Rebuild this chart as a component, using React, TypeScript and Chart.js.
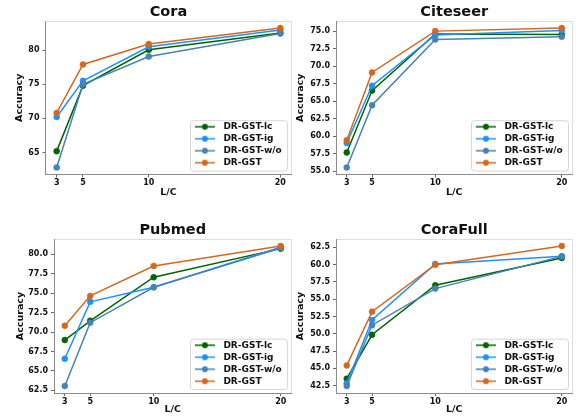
import React, { useEffect, useRef } from 'react';
import { Chart, registerables } from 'chart.js';

Chart.register(...registerables);

// ---------- data ----------
const xValues = [3, 5, 10, 20];
const xTicks = [3, 5, 10, 20];
const seriesNames = ['DR-GST-lc', 'DR-GST-ig', 'DR-GST-w/o', 'DR-GST'];
const seriesColors = ['#006400', '#1e90ff', '#4682b4', '#d2691e'];

const coraLc = [65.2, 74.8, 80.05, 82.5];
const coraIg = [70.2, 75.5, 80.5, 82.95];
const coraWo = [62.8, 75.0, 79.07, 82.45];
const coraGst = [70.8, 77.9, 80.9, 83.25];
const coraTicks = [65, 70, 75, 80];

const citeseerLc = [57.66, 66.5, 74.6, 74.5];
const citeseerIg = [59.0, 67.2, 74.45, 75.1];
const citeseerWo = [55.5, 64.4, 73.8, 74.2];
const citeseerGst = [59.4, 69.1, 75.0, 75.45];
const citeseerTicks = [55, 57.5, 60, 62.5, 65, 67.5, 70, 72.5, 75];

const pubmedLc = [68.96, 71.44, 77.05, 80.73];
const pubmedIg = [66.56, 73.88, 75.76, 80.9];
const pubmedWo = [63.05, 71.2, 75.76, 80.8];
const pubmedGst = [70.8, 74.65, 78.5, 81.07];
const pubmedTicks = [62.5, 65, 67.5, 70, 72.5, 75, 77.5, 80];

const coraFullLc = [43.5, 49.86, 57.02, 60.96];
const coraFullIg = [42.84, 52.0, 60.1, 61.2];
const coraFullWo = [42.45, 51.25, 56.54, 61.2];
const coraFullGst = [45.43, 53.2, 60.0, 62.7];
const coraFullTicks = [42.5, 45, 47.5, 50, 52.5, 55, 57.5, 60, 62.5];

// ---------- layout ----------
const FAMILY = "'DejaVu Sans', sans-serif";
const W = 580;
const H = 416;
const TITLE_SIZE = 14.5;
const TITLE_LH = 1.15;
const LABEL_SIZE = 9.5;
const LABEL_LH = 1.2;

type Panel = {
  title: string;
  series: number[][];
  ticks: number[];
  decimals: number;
  L: number; R: number; T: number; B: number;
  yTitleX: number; xTitleY: number;
};

const panels: Panel[] = [
  { title: 'Cora', series: [coraLc, coraIg, coraWo, coraGst], ticks: coraTicks, decimals: 0,
    L: 45.5, R: 291.5, T: 21, B: 174.5, yTitleX: 20, xTitleY: 192.7 },
  { title: 'Citeseer', series: [citeseerLc, citeseerIg, citeseerWo, citeseerGst], ticks: citeseerTicks, decimals: 1,
    L: 336, R: 572.5, T: 21, B: 174.5, yTitleX: 301, xTitleY: 192.7 },
  { title: 'Pubmed', series: [pubmedLc, pubmedIg, pubmedWo, pubmedGst], ticks: pubmedTicks, decimals: 1,
    L: 54, R: 291.5, T: 239, B: 393, yTitleX: 20.5, xTitleY: 410 },
  { title: 'CoraFull', series: [coraFullLc, coraFullIg, coraFullWo, coraFullGst], ticks: coraFullTicks, decimals: 1,
    L: 336, R: 572.5, T: 239, B: 393, yTitleX: 301, xTitleY: 410 },
];

function makeLegendIcon(color: string): HTMLCanvasElement {
  const c = document.createElement('canvas');
  c.width = 22;
  c.height = 8;
  const ctx = c.getContext('2d')!;
  ctx.strokeStyle = color;
  ctx.lineWidth = 1.5;
  ctx.beginPath();
  ctx.moveTo(1, 4);
  ctx.lineTo(21, 4);
  ctx.stroke();
  ctx.fillStyle = color;
  ctx.beginPath();
  ctx.arc(11, 4, 3, 0, Math.PI * 2);
  ctx.fill();
  return c;
}

const LEG_W = 97;
const LEG_H = 50.3;

const panelDecor = {
  id: 'panelDecor',
  afterLayout(chart: any) {
    const ca = chart.chartArea;
    const lg = chart.legend;
    const bx = ca.right - 4 - LEG_W;
    const by = ca.bottom - 3.5 - LEG_H;
    chart.$legBox = { bx, by };
    if (lg) {
      lg.left = bx - 2.6;
      lg.right = lg.left + LEG_W;
      lg.width = LEG_W;
      lg.top = by - 1.5;
      lg.bottom = lg.top + 70;
      lg.height = 70;
    }
  },
  beforeDraw(chart: any) {
    const ctx = chart.ctx;
    const ca = chart.chartArea;
    ctx.save();
    // top & right spines (light)
    ctx.strokeStyle = '#dddddd';
    ctx.lineWidth = 1;
    ctx.beginPath();
    ctx.moveTo(ca.left, Math.round(ca.top) + 0.5);
    ctx.lineTo(ca.right, Math.round(ca.top) + 0.5);
    ctx.moveTo(Math.round(ca.right) - 0.5, ca.top);
    ctx.lineTo(Math.round(ca.right) - 0.5, ca.bottom);
    ctx.stroke();
    // legend frame
    const { bx, by } = chart.$legBox;
    ctx.fillStyle = 'rgba(255,255,255,0.8)';
    ctx.strokeStyle = '#cccccc';
    ctx.lineWidth = 0.8;
    ctx.beginPath();
    (ctx as any).roundRect(bx, by, LEG_W, LEG_H, 3);
    ctx.fill();
    ctx.stroke();
    ctx.restore();
  },
};

function buildChart(canvas: HTMLCanvasElement, p: Panel) {
  const icons = seriesColors.map(makeLegendIcon);
  const datasets = p.series.map((vals, i) => ({
    label: seriesNames[i],
    data: xValues.map((x, j) => ({ x, y: vals[j] })),
    borderColor: seriesColors[i],
    backgroundColor: seriesColors[i],
    pointBackgroundColor: seriesColors[i],
    pointBorderColor: seriesColors[i],
    borderWidth: 1.5,
    pointRadius: 3,
    pointBorderWidth: 0.5,
    tension: 0,
    order: seriesNames.length - i,
  }));
  const all = p.series.flat();
  const dMin = Math.min(...all);
  const dMax = Math.max(...all);
  const yPad = (dMax - dMin) * 0.05;
  const xPad = (xValues[xValues.length - 1] - xValues[0]) * 0.05;
  const tickFont = { family: FAMILY, size: 8, weight: 'bold' as const };
  const labelFont = { family: FAMILY, size: LABEL_SIZE, weight: 'bold' as const, lineHeight: LABEL_LH };
  const halfLabel = (LABEL_SIZE * LABEL_LH) / 2;

  return new Chart(canvas, {
    type: 'line',
    data: { datasets },
    options: {
      animation: false,
      responsive: false,
      devicePixelRatio: 1,
      layout: {
        padding: {
          left: p.yTitleX - halfLabel,
          right: W - p.R,
          top: p.T - TITLE_SIZE * TITLE_LH,
          bottom: H - p.xTitleY - halfLabel,
        },
      },
      scales: {
        x: {
          type: 'linear',
          min: xValues[0] - xPad,
          max: xValues[xValues.length - 1] + xPad,
          afterBuildTicks: (s: any) => { s.ticks = xTicks.map((v) => ({ value: v })); },
          afterFit: (s: any) => { s.height = p.xTitleY - p.B + halfLabel; },
          ticks: { font: tickFont, color: '#111', padding: 1, maxRotation: 0, callback: (v: any) => String(v) },
          grid: { display: true, drawOnChartArea: false, drawTicks: true, tickLength: 3, color: '#666' },
          border: { display: true, color: '#8c8c8c', width: 1 },
          title: { display: true, text: 'L/C', font: labelFont, color: '#111', padding: 0 },
        },
        y: {
          type: 'linear',
          min: dMin - yPad,
          max: dMax + yPad,
          afterBuildTicks: (s: any) => { s.ticks = p.ticks.map((v) => ({ value: v })); },
          afterFit: (s: any) => { s.width = p.L - p.yTitleX + halfLabel; },
          ticks: { font: tickFont, color: '#111', padding: 3, callback: (v: any) => Number(v).toFixed(p.decimals) },
          grid: { display: true, drawOnChartArea: false, drawTicks: true, tickLength: 3, color: '#666' },
          border: { display: true, color: '#8c8c8c', width: 1 },
          title: { display: true, text: 'Accuracy', font: labelFont, color: '#111', padding: 0 },
        },
      },
      plugins: {
        title: {
          display: true,
          text: p.title,
          fullSize: false,
          color: '#111',
          padding: 0,
          font: { family: FAMILY, size: TITLE_SIZE, weight: 'bold', lineHeight: TITLE_LH },
        },
        legend: {
          display: true,
          position: 'chartArea' as any,
          align: 'start',
          labels: {
            usePointStyle: true,
            pointStyleWidth: 28,
            padding: 3,
            color: '#111',
            font: { family: FAMILY, size: 9, weight: 'bold' },
            generateLabels: () => seriesNames.map((name, i) => ({
              text: name,
              pointStyle: icons[i] as any,
              fillStyle: seriesColors[i],
              strokeStyle: seriesColors[i],
              lineWidth: 0,
              hidden: false,
              datasetIndex: i,
              fontColor: '#111',
            })),
          },
        },
        tooltip: { enabled: false },
      },
    } as any,
    plugins: [panelDecor],
  });
}

function PanelChart({ p }: { p: Panel }) {
  const ref = useRef<HTMLCanvasElement>(null);
  useEffect(() => {
    if (!ref.current) return;
    const chart = buildChart(ref.current, p);
    return () => chart.destroy();
  }, [p]);
  return (
    <canvas
      ref={ref}
      width={W}
      height={H}
      style={{ position: 'absolute', left: 0, top: 0, width: W, height: H }}
    />
  );
}

export default function App() {
  return (
    <div style={{ position: 'absolute', left: 0, top: 0, width: W, height: H, background: '#ffffff' }}>
      {panels.map((p) => (
        <PanelChart key={p.title} p={p} />
      ))}
    </div>
  );
}
